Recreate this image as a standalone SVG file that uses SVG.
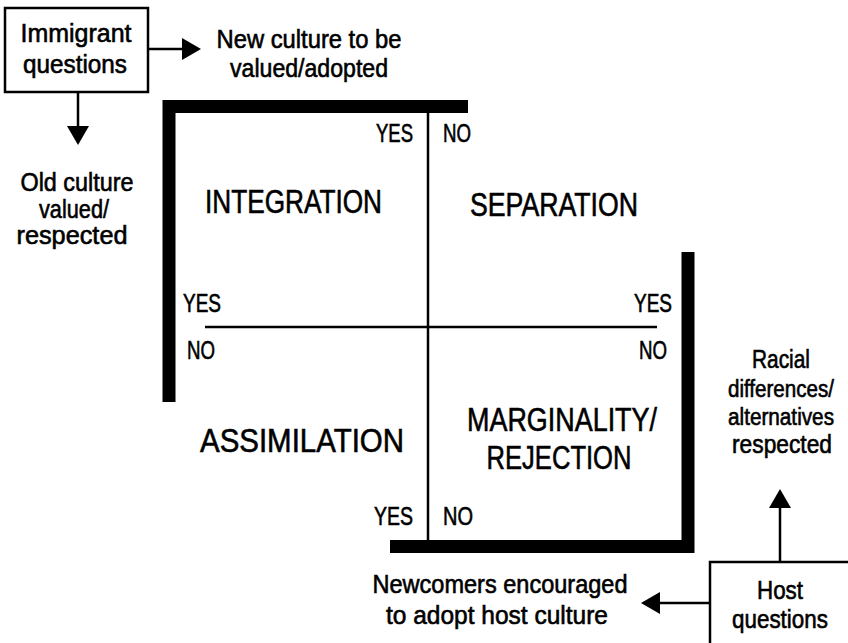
<svg xmlns="http://www.w3.org/2000/svg" width="848" height="643" viewBox="0 0 848 643">
  <style>
    text { font-family: "Liberation Sans", Arial, sans-serif; fill: #000; stroke: #000; stroke-width: 0.6; }
    .lbl { font-size: 25.5px; }
    .lbl-s { font-size: 23px; }
    .quad { font-size: 33px; }
    .mid { text-anchor: middle; }
    .end { text-anchor: end; }
    .box { fill: #fff; stroke: #000; stroke-width: 2.5; }
    .thin { stroke: #000; stroke-width: 2.5; fill: none; }
    .thick { stroke: #000; stroke-width: 13; fill: none; stroke-linejoin: miter; }
    .arrow { stroke: #000; stroke-width: 2.5; fill: none; marker-end: url(#head); }
  </style>
  <defs>
    <marker id="head" viewBox="0 0 19 22" refX="8" refY="11" markerWidth="19" markerHeight="22" markerUnits="userSpaceOnUse" orient="auto">
      <path d="M0,0 L19,11 L0,22 z" fill="#000"/>
    </marker>
  </defs>
  <rect width="848" height="643" fill="#fff"/>

  <!-- frame of the grid -->
  <g id="frame">
    <path class="thick" d="M169,402 V106.5 H468"/>
    <path class="thick" d="M688,252 V546.5 H390"/>
    <line class="thin" x1="428" y1="113" x2="428" y2="540"/>
    <line class="thin" x1="205" y1="327" x2="657" y2="327"/>
  </g>

  <!-- connectors -->
  <g id="connectors">
    <line class="arrow" x1="148" y1="49" x2="190" y2="49"/>
    <line class="arrow" x1="78" y1="92" x2="78" y2="134"/>
    <line class="arrow" x1="780" y1="562" x2="780" y2="500"/>
    <line class="arrow" x1="710" y1="603" x2="652" y2="603"/>
  </g>

  <g id="immigrant-questions">
    <rect class="box" x="5" y="8" width="143" height="84"/>
    <text class="lbl mid" x="76" y="42" textLength="111" lengthAdjust="spacingAndGlyphs">Immigrant</text>
    <text class="lbl mid" x="75" y="73" textLength="104" lengthAdjust="spacingAndGlyphs">questions</text>
  </g>

  <g id="new-culture">
    <text class="lbl mid" x="309" y="48" textLength="185" lengthAdjust="spacingAndGlyphs">New culture to be</text>
    <text class="lbl mid" x="309" y="77" textLength="158" lengthAdjust="spacingAndGlyphs">valued/adopted</text>
  </g>

  <g id="old-culture">
    <text class="lbl mid" x="77" y="191" textLength="113" lengthAdjust="spacingAndGlyphs">Old culture</text>
    <text class="lbl mid" x="74" y="218" textLength="70" lengthAdjust="spacingAndGlyphs">valued/</text>
    <text class="lbl mid" x="72" y="244" textLength="111" lengthAdjust="spacingAndGlyphs">respected</text>
  </g>

  <g id="axis-labels">
    <text class="lbl end" x="413" y="142" textLength="37" lengthAdjust="spacingAndGlyphs">YES</text>
    <text class="lbl" x="443" y="142" textLength="28" lengthAdjust="spacingAndGlyphs">NO</text>
    <text class="lbl" x="183" y="312" textLength="38" lengthAdjust="spacingAndGlyphs">YES</text>
    <text class="lbl" x="187" y="359" textLength="28" lengthAdjust="spacingAndGlyphs">NO</text>
    <text class="lbl end" x="672" y="312" textLength="38" lengthAdjust="spacingAndGlyphs">YES</text>
    <text class="lbl end" x="667" y="359" textLength="28" lengthAdjust="spacingAndGlyphs">NO</text>
    <text class="lbl end" x="413" y="525" textLength="39" lengthAdjust="spacingAndGlyphs">YES</text>
    <text class="lbl" x="443" y="525" textLength="30" lengthAdjust="spacingAndGlyphs">NO</text>
  </g>

  <g id="integration">
    <text class="quad" x="205" y="213" textLength="177" lengthAdjust="spacingAndGlyphs">INTEGRATION</text>
  </g>
  <g id="separation">
    <text class="quad" x="470" y="216" textLength="168" lengthAdjust="spacingAndGlyphs">SEPARATION</text>
  </g>
  <g id="assimilation">
    <text class="quad" x="200" y="452" textLength="204" lengthAdjust="spacingAndGlyphs">ASSIMILATION</text>
  </g>
  <g id="marginality">
    <text class="quad mid" x="562" y="431" textLength="190" lengthAdjust="spacingAndGlyphs">MARGINALITY/</text>
    <text class="quad mid" x="559" y="469" textLength="145" lengthAdjust="spacingAndGlyphs">REJECTION</text>
  </g>

  <g id="racial-differences">
    <text class="lbl mid" x="781" y="368" textLength="58" lengthAdjust="spacingAndGlyphs">Racial</text>
    <text class="lbl-s mid" x="781" y="397" textLength="106" lengthAdjust="spacingAndGlyphs">differences/</text>
    <text class="lbl-s mid" x="781" y="425" textLength="106" lengthAdjust="spacingAndGlyphs">alternatives</text>
    <text class="lbl mid" x="782" y="453" textLength="100" lengthAdjust="spacingAndGlyphs">respected</text>
  </g>

  <g id="newcomers">
    <text class="lbl mid" x="500" y="593" textLength="255" lengthAdjust="spacingAndGlyphs">Newcomers encouraged</text>
    <text class="lbl mid" x="497" y="624" textLength="222" lengthAdjust="spacingAndGlyphs">to adopt host culture</text>
  </g>

  <g id="host-questions">
    <rect class="box" x="710" y="562" width="140" height="90"/>
    <text class="lbl mid" x="780" y="599" textLength="46" lengthAdjust="spacingAndGlyphs">Host</text>
    <text class="lbl mid" x="780" y="628" textLength="96" lengthAdjust="spacingAndGlyphs">questions</text>
  </g>
</svg>
